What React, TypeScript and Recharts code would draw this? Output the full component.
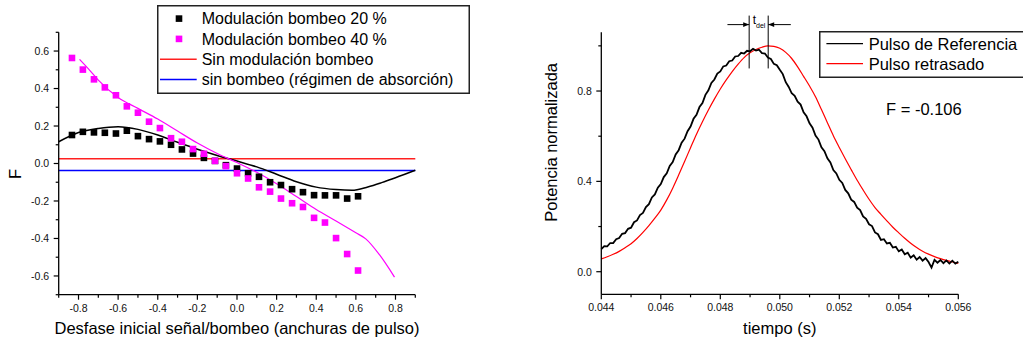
import { ComposedChart, Line, Scatter, XAxis, YAxis, ReferenceLine, ReferenceDot, Legend, Label } from "recharts";

const FONT = '"Liberation Sans", Arial, sans-serif';

// --- left panel: F vs desfase ---
const desfase = [
  -0.833, -0.778, -0.722, -0.667, -0.611, -0.556, -0.5, -0.444, -0.389, -0.333, -0.278, -0.222, -0.167, -0.111,
  -0.056, 0, 0.056, 0.111, 0.167, 0.222, 0.278, 0.333, 0.389, 0.444, 0.5, 0.556, 0.611,
];
const modulacion20 = [
  0.152, 0.169, 0.166, 0.164, 0.16, 0.175, 0.146, 0.13, 0.118, 0.1, 0.075, 0.053, 0.03, 0.014, -0.009, -0.027,
  -0.052, -0.071, -0.1, -0.115, -0.137, -0.153, -0.169, -0.17, -0.17, -0.187, -0.175,
];
const modulacion40 = [
  0.563, 0.501, 0.449, 0.406, 0.364, 0.305, 0.271, 0.223, 0.189, 0.135, 0.116, 0.077, 0.052, 0.014, -0.014,
  -0.052, -0.08, -0.127, -0.15, -0.187, -0.212, -0.232, -0.29, -0.315, -0.398, -0.483, -0.571,
];
const teoria20X = [-0.9, -0.8, -0.7, -0.6, -0.5, -0.4, -0.3, -0.2, -0.1, 0, 0.1, 0.2, 0.3, 0.4, 0.5, 0.58, 0.66, 0.73, 0.8, 0.9];
const teoria20Y = [
  0.116, 0.165, 0.187, 0.196, 0.182, 0.152, 0.113, 0.076, 0.043, 0.013, -0.018, -0.057, -0.097, -0.126, -0.139,
  -0.143, -0.125, -0.102, -0.076, -0.036,
];
const teoria40X = [-0.795, -0.75, -0.7, -0.6, -0.5, -0.4, -0.3, -0.2, -0.1, 0, 0.1, 0.2, 0.3, 0.4, 0.5, 0.6, 0.65, 0.72, 0.795];
const teoria40Y = [
  0.556, 0.505, 0.445, 0.352, 0.294, 0.237, 0.173, 0.109, 0.053, 0.005, -0.047, -0.108, -0.176, -0.245, -0.307,
  -0.37, -0.402, -0.488, -0.606,
];
const sinModulacion = 0.025;
const sinBombeo = -0.037;
const ticksDesfase = [-0.9, -0.8, -0.7, -0.6, -0.5, -0.4, -0.3, -0.2, -0.1, 0, 0.1, 0.2, 0.3, 0.4, 0.5, 0.6, 0.7, 0.8, 0.9];
const etiquetasDesfase = [-0.8, -0.6, -0.4, -0.2, 0, 0.2, 0.4, 0.6, 0.8];
const ticksF = [-0.7, -0.6, -0.5, -0.4, -0.3, -0.2, -0.1, 0, 0.1, 0.2, 0.3, 0.4, 0.5, 0.6, 0.7];
const etiquetasF = [-0.6, -0.4, -0.2, 0, 0.2, 0.4, 0.6];

// --- right panel: pulses ---
const tiempoRef = [
  0.044, 0.0441, 0.0442, 0.0443, 0.0444, 0.0445, 0.0446, 0.0447, 0.0448, 0.0449,
  0.045, 0.0451, 0.0452, 0.0453, 0.0454, 0.0455, 0.0456, 0.0457, 0.0458, 0.0459,
  0.046, 0.0461, 0.0462, 0.0463, 0.0464, 0.0465, 0.0466, 0.0467, 0.0468, 0.0469,
  0.047, 0.0471, 0.0472, 0.0473, 0.0474, 0.0475, 0.0476, 0.0477, 0.0478, 0.0479,
  0.048, 0.0481, 0.0482, 0.0483, 0.0484, 0.0485, 0.0486, 0.0487, 0.0488, 0.0489,
  0.049, 0.0491, 0.0492, 0.0493, 0.0494, 0.0495, 0.0496, 0.0497, 0.0498, 0.0499,
  0.05, 0.0501, 0.0502, 0.0503, 0.0504, 0.0505, 0.0506, 0.0507, 0.0508, 0.0509,
  0.051, 0.0511, 0.0512, 0.0513, 0.0514, 0.0515, 0.0516, 0.0517, 0.0518, 0.0519,
  0.052, 0.0521, 0.0522, 0.0523, 0.0524, 0.0525, 0.0526, 0.0527, 0.0528, 0.0529,
  0.053, 0.0531, 0.0532, 0.0533, 0.0534, 0.0535, 0.0536, 0.0537, 0.0538, 0.0539,
  0.054, 0.0541, 0.0542, 0.0543, 0.0544, 0.0545, 0.0546, 0.0547, 0.0548, 0.0549,
  0.055, 0.0551, 0.0552, 0.0553, 0.0554, 0.0555, 0.0556, 0.0557, 0.0558, 0.0559,
  0.056,
];
const pulsoReferencia = [
  0.1, 0.113, 0.112, 0.127, 0.127, 0.144, 0.149, 0.168, 0.171, 0.19,
  0.195, 0.219, 0.227, 0.251, 0.26, 0.286, 0.299, 0.329, 0.342, 0.372,
  0.388, 0.419, 0.436, 0.468, 0.485, 0.519, 0.538, 0.571, 0.589, 0.622,
  0.643, 0.677, 0.695, 0.729, 0.747, 0.783, 0.803, 0.836, 0.851, 0.877,
  0.887, 0.909, 0.913, 0.932, 0.935, 0.953, 0.955, 0.969, 0.966, 0.978,
  0.976, 0.987, 0.979, 0.983, 0.968, 0.966, 0.948, 0.942, 0.92, 0.914,
  0.894, 0.875, 0.839, 0.818, 0.79, 0.779, 0.753, 0.74, 0.706, 0.688,
  0.657, 0.638, 0.603, 0.585, 0.551, 0.534, 0.502, 0.484, 0.45, 0.435,
  0.407, 0.393, 0.362, 0.347, 0.319, 0.309, 0.284, 0.273, 0.245, 0.234,
  0.21, 0.202, 0.174, 0.166, 0.141, 0.144, 0.125, 0.128, 0.107, 0.11,
  0.09, 0.098, 0.077, 0.084, 0.062, 0.073, 0.053, 0.065, 0.049, 0.06,
  0.043, 0.018, 0.053, 0.04, 0.052, 0.038, 0.05, 0.036, 0.049, 0.036,
  0.044,
];
const tiempoRet = [
  0.044, 0.0442, 0.0444, 0.0446, 0.0448, 0.045, 0.0452, 0.0454, 0.0456, 0.0458,
  0.046, 0.0462, 0.0464, 0.0466, 0.0468, 0.047, 0.0472, 0.0474, 0.0476, 0.0478,
  0.048, 0.0482, 0.0484, 0.0486, 0.0488, 0.049, 0.0492, 0.0494, 0.0496, 0.0498,
  0.05, 0.0502, 0.0504, 0.0506, 0.0508, 0.051, 0.0512, 0.0514, 0.0516, 0.0518,
  0.052, 0.0522, 0.0524, 0.0526, 0.0528, 0.053, 0.0532, 0.0534, 0.0536, 0.0538,
  0.054, 0.0542, 0.0544, 0.0546, 0.0548, 0.055, 0.0552, 0.0554, 0.0556, 0.0558,
  0.056,
];
const pulsoRetrasado = [
  0.057, 0.066, 0.077, 0.09, 0.106, 0.124, 0.147, 0.174, 0.204, 0.237,
  0.273, 0.318, 0.37, 0.428, 0.488, 0.549, 0.609, 0.664, 0.716, 0.764,
  0.809, 0.849, 0.886, 0.919, 0.948, 0.969, 0.984, 0.994, 1.0, 0.998,
  0.989, 0.971, 0.944, 0.907, 0.865, 0.822, 0.775, 0.718, 0.66, 0.602,
  0.55, 0.5, 0.452, 0.405, 0.362, 0.321, 0.284, 0.254, 0.225, 0.197,
  0.172, 0.148, 0.126, 0.107, 0.091, 0.078, 0.067, 0.058, 0.05, 0.043,
  0.037,
];
const ticksTiempo = [0.044, 0.045, 0.046, 0.047, 0.048, 0.049, 0.05, 0.051, 0.052, 0.053, 0.054, 0.055, 0.056];
const etiquetasTiempo = [0.044, 0.046, 0.048, 0.05, 0.052, 0.054, 0.056];
const ticksPotencia = [0, 0.2, 0.4, 0.6, 0.8, 1.0];
const etiquetasPotencia = [0, 0.4, 0.8];
const tDel = [0.04897, 0.04961];
const valorF = "F = -0.106";

const same = (a: number, b: number) => Math.abs(a - b) < 1e-9;

const makeXTick = (labels: number[], digits: number) => (props: any) => {
  const { x, y, payload } = props;
  const major = labels.some((l) => same(l, payload.value));
  return (
    <g>
      <line x1={x} x2={x} y1={y} y2={y + (major ? 5 : 3)} stroke="#000" strokeWidth={1.2} />
      {major && (
        <text x={x} y={y + 17} textAnchor="middle" fontSize={10.5} fontFamily={FONT} fill="#111">
          {payload.value.toFixed(digits)}
        </text>
      )}
    </g>
  );
};

const makeYTick = (labels: number[]) => (props: any) => {
  const { x, y, payload } = props;
  const major = labels.some((l) => same(l, payload.value));
  return (
    <g>
      <line x1={x - (major ? 5 : 3)} x2={x} y1={y} y2={y} stroke="#000" strokeWidth={1.2} />
      {major && (
        <text x={x - 9.5} y={y + 3.8} textAnchor="end" fontSize={10.5} fontFamily={FONT} fill="#111">
          {payload.value.toFixed(1)}
        </text>
      )}
    </g>
  );
};

const Square = (color: string) => (props: any) => {
  const { cx, cy } = props;
  return <rect x={cx - 3.3} y={cy - 3.3} width={6.6} height={6.6} fill={color} />;
};

const leftRows = [
  { label: "Modulación bombeo 20 %", color: "#000000", kind: "square" },
  { label: "Modulación bombeo 40 %", color: "#ff00ff", kind: "square" },
  { label: "Sin modulación bombeo", color: "#ff2020", kind: "line" },
  { label: "sin bombeo (régimen de absorción)", color: "#0000ff", kind: "line" },
];

const LeftLegend = () => (
  <svg width={313} height={89} style={{ display: "block" }}>
    <rect x={0.75} y={0.75} width={311.5} height={87.5} fill="#fff" stroke="#222" strokeWidth={1.5} />
    {leftRows.map((r, i) => {
      const cy = 13.6 + i * 20.3;
      return (
        <g key={r.label}>
          {r.kind === "square" ? (
            <rect x={22 - 3.3} y={cy - 3.3} width={6.6} height={6.6} fill={r.color} />
          ) : (
            <line x1={3} x2={39.7} y1={cy} y2={cy} stroke={r.color} strokeWidth={1.5} />
          )}
          <text x={44.7} y={cy + 5.7} fontSize={16} fontFamily={FONT} fill="#000">
            {r.label}
          </text>
        </g>
      );
    })}
  </svg>
);

const rightRows = [
  { label: "Pulso de Referencia", color: "#000000" },
  { label: "Pulso retrasado", color: "#ff0000" },
];

const RightLegend = () => (
  <svg width={215} height={47} style={{ display: "block" }}>
    <rect x={0.75} y={0.75} width={225} height={45.5} fill="#fff" stroke="#222" strokeWidth={1.5} />
    {rightRows.map((r, i) => {
      const cy = 12.6 + i * 20;
      return (
        <g key={r.label}>
          <line x1={7.4} x2={44} y1={cy} y2={cy} stroke={r.color} strokeWidth={1.2} />
          <text x={49.7} y={cy + 5.9} fontSize={16.5} fontFamily={FONT} fill="#000">
            {r.label}
          </text>
        </g>
      );
    })}
  </svg>
);

const Arrow = (props: any) => {
  const { x1, y1, x2, y2 } = props;
  const dir = x2 > x1 ? 1 : -1;
  return (
    <g>
      <line x1={x1} x2={x2} y1={y1} y2={y2} stroke="#000" strokeWidth={1} />
      <polygon points={`${x2},${y2} ${x2 - dir * 6},${y2 - 2.3} ${x2 - dir * 6},${y2 + 2.3}`} fill="#000" />
    </g>
  );
};

const PlainLine = (props: any) => {
  const { x1, y1, x2, y2 } = props;
  return <line x1={x1} x2={x2} y1={y1} y2={y2} stroke="#000" strokeWidth={1} />;
};

const TDelLabel = (props: any) => {
  const { cx, cy } = props;
  return (
    <text x={cx} y={cy + 8.5} fontFamily={FONT} fill="#000" fontSize={12}>
      t
      <tspan x={cx + 3.3} y={cy + 12.6} fontSize={7}>
        del
      </tspan>
    </text>
  );
};

const FLabel = (props: any) => {
  const { cx, cy } = props;
  return (
    <text x={cx} y={cy} fontFamily={FONT} fill="#000" fontSize={16.5}>
      {valorF}
    </text>
  );
};

const LeftChart = () => {
  const pts20 = desfase.map((x, i) => ({ x, y: modulacion20[i] }));
  const pts40 = desfase.map((x, i) => ({ x, y: modulacion40[i] }));
  const teo20 = teoria20X.map((x, i) => ({ x, y: teoria20Y[i] }));
  const teo40 = teoria40X.map((x, i) => ({ x, y: teoria40Y[i] }));
  return (
    <ComposedChart width={480} height={347} margin={{ top: 32.3, right: 64.7, bottom: 0, left: 0 }}>
      <XAxis
        dataKey="x"
        type="number"
        domain={[-0.9, 0.9]}
        ticks={ticksDesfase}
        interval={0}
        height={52.3}
        tickSize={0}
        tickMargin={0}
        tickLine={false}
        tick={makeXTick(etiquetasDesfase, 1)}
        axisLine={{ stroke: "#000", strokeWidth: 1.3 }}
      >
        <Label
          content={(p: any) => (
            <text
              x={p.viewBox.x + p.viewBox.width / 2}
              y={p.viewBox.y + 39.6}
              textAnchor="middle"
              fontSize={16.5}
              fontFamily={FONT}
              fill="#000"
            >
              Desfase inicial señal/bombeo (anchuras de pulso)
            </text>
          )}
        />
      </XAxis>
      <YAxis
        type="number"
        domain={[-0.7, 0.7]}
        ticks={ticksF}
        interval={0}
        width={58.7}
        tickSize={0}
        tickMargin={0}
        tickLine={false}
        tick={makeYTick(etiquetasF)}
        axisLine={{ stroke: "#000", strokeWidth: 1.3 }}
      >
        <Label
          content={(p: any) => {
            const cy = p.viewBox.y + p.viewBox.height / 2 + 10.5;
            return (
              <text
                x={15}
                y={cy}
                transform={`rotate(-90, 15, ${cy})`}
                textAnchor="middle"
                dominantBaseline="central"
                fontSize={16.5}
                fontFamily={FONT}
                fill="#000"
              >
                F
              </text>
            );
          }}
        />
      </YAxis>
      <Legend
        layout="vertical"
        align="center"
        verticalAlign="middle"
        wrapperStyle={{ left: 157, top: 4.7, width: 313, height: 89 }}
        content={() => <LeftLegend />}
      />
      <Scatter data={pts20} dataKey="y" shape={Square("#000000")} isAnimationActive={false} />
      <Scatter data={pts40} dataKey="y" shape={Square("#ff00ff")} isAnimationActive={false} />
      <ReferenceLine y={sinModulacion} stroke="#ff2020" strokeWidth={1.5} />
      <ReferenceLine y={sinBombeo} stroke="#0000ff" strokeWidth={1.5} />
      <Line data={teo20} dataKey="y" type="monotone" stroke="#000" strokeWidth={1.5} dot={false} isAnimationActive={false} />
      <Line data={teo40} dataKey="y" type="monotone" stroke="#ff00ff" strokeWidth={1.2} dot={false} isAnimationActive={false} />
    </ComposedChart>
  );
};

const RightChart = () => {
  const ref = tiempoRef.map((x, i) => ({ x, y: pulsoReferencia[i] }));
  const ret = tiempoRet.map((x, i) => ({ x, y: pulsoRetrasado[i] }));
  return (
    <ComposedChart width={493} height={347} margin={{ top: 32.3, right: 64.7, bottom: 0, left: 0 }}>
      <XAxis
        dataKey="x"
        type="number"
        domain={[0.044, 0.056]}
        ticks={ticksTiempo}
        interval={0}
        height={52.7}
        tickSize={0}
        tickMargin={0}
        tickLine={false}
        tick={makeXTick(etiquetasTiempo, 3)}
        axisLine={{ stroke: "#000", strokeWidth: 1.3 }}
      >
        <Label
          content={(p: any) => (
            <text
              x={p.viewBox.x + p.viewBox.width / 2}
              y={p.viewBox.y + 40}
              textAnchor="middle"
              fontSize={16.5}
              fontFamily={FONT}
              fill="#000"
            >
              tiempo (s)
            </text>
          )}
        />
      </XAxis>
      <YAxis
        type="number"
        domain={[-0.1, 1.06]}
        ticks={ticksPotencia}
        interval={0}
        width={71.3}
        tickSize={0}
        tickMargin={0}
        tickLine={false}
        tick={makeYTick(etiquetasPotencia)}
        axisLine={{ stroke: "#000", strokeWidth: 1.3 }}
      >
        <Label
          content={(p: any) => {
            const cy = p.viewBox.y + p.viewBox.height / 2 - 21;
            return (
              <text
                x={20.7}
                y={cy}
                transform={`rotate(-90, 20.7, ${cy})`}
                textAnchor="middle"
                dominantBaseline="central"
                fontSize={16.5}
                fontFamily={FONT}
                fill="#000"
              >
                Potencia normalizada
              </text>
            );
          }}
        />
      </YAxis>
      <Legend
        layout="vertical"
        align="center"
        verticalAlign="middle"
        wrapperStyle={{ left: 289.3, top: 30.7, width: 215, height: 47 }}
        content={() => <RightLegend />}
      />
      <Line data={ret} dataKey="y" type="monotone" stroke="#ff0000" strokeWidth={1.2} dot={false} isAnimationActive={false} />
      <Line data={ref} dataKey="y" type="linear" stroke="#000" strokeWidth={1.8} dot={false} isAnimationActive={false} />
      {tDel.map((t) => (
        <ReferenceLine
          key={t}
          ifOverflow="visible"
          segment={[
            { x: t, y: 0.9 },
            { x: t, y: 1.134 },
          ]}
          shape={PlainLine}
        />
      ))}
      <ReferenceLine
        ifOverflow="visible"
        segment={[
          { x: 0.04824, y: 1.094 },
          { x: tDel[0], y: 1.094 },
        ]}
        shape={Arrow}
      />
      <ReferenceLine
        ifOverflow="visible"
        segment={[
          { x: 0.05037, y: 1.094 },
          { x: tDel[1], y: 1.094 },
        ]}
        shape={Arrow}
      />
      <ReferenceDot x={0.04909} y={1.134} ifOverflow="visible" shape={TDelLabel} />
      <ReferenceDot x={0.05357} y={0.693} shape={FLabel} />
    </ComposedChart>
  );
};

export default function App() {
  return (
    <div
      style={{
        position: "absolute",
        left: 0,
        top: 0,
        width: 1023,
        height: 347,
        overflow: "hidden",
        background: "#fff",
      }}
    >
      <div style={{ position: "absolute", left: 0, top: 0 }}>
        <LeftChart />
      </div>
      <div style={{ position: "absolute", left: 530, top: 0 }}>
        <RightChart />
      </div>
    </div>
  );
}
